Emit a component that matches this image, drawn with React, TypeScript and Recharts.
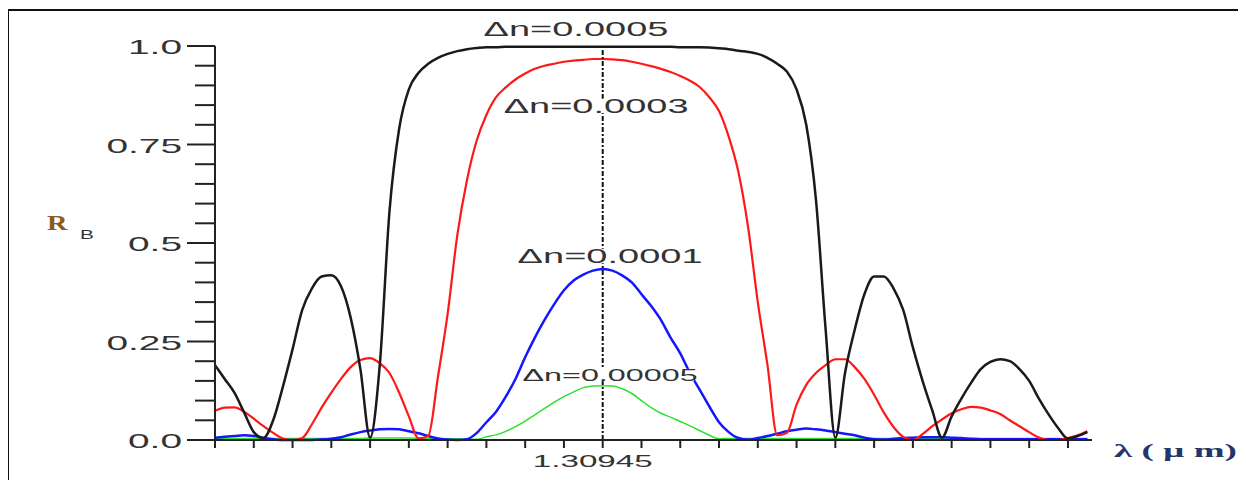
import React from 'react';
import { LineChart, Line, XAxis, YAxis, ReferenceLine, ReferenceDot } from 'recharts';

// wavelength grid (µm), 0.000025 µm step, centred on the Bragg wavelength 1.30945
const lambda = Array.from({ length: 91 }, (_, i) => +(1.30845 + i * 0.000025).toFixed(6));

// reflectivity R_B for each index modulation Δn
const dn0005 = [
  0.19, 0.155, 0.12, 0.07, 0.02, 0.005, 0.05, 0.135, 0.23, 0.33,
  0.385, 0.415, 0.418, 0.39, 0.31, 0.18, 0.006, 0.19, 0.58, 0.79,
  0.89, 0.932, 0.955, 0.97, 0.98, 0.987, 0.992, 0.995, 0.997, 0.997,
  0.998, 0.998, 0.998, 0.998, 0.998, 0.998, 0.998, 0.998, 0.998, 0.998,
  0.998, 0.998, 0.998, 0.998, 0.998, 0.998, 0.998, 0.998, 0.997, 0.997,
  0.997, 0.996, 0.994, 0.992, 0.988, 0.985, 0.98, 0.97, 0.955, 0.935,
  0.89, 0.8, 0.61, 0.28, 0.006, 0.17, 0.28, 0.37, 0.415, 0.415,
  0.385, 0.33, 0.235, 0.15, 0.075, 0.006, 0.06, 0.105, 0.145, 0.18,
  0.198, 0.205, 0.2, 0.18, 0.15, 0.105, 0.065, 0.03, 0.004, 0.01, 0.02,
];
const dn0003 = [
  0.074, 0.082, 0.083, 0.072, 0.054, 0.035, 0.018, 0.004, 0, 0.005,
  0.04, 0.082, 0.12, 0.155, 0.185, 0.203, 0.208, 0.195, 0.17, 0.12,
  0.06, 0.004, 0.01, 0.16, 0.32, 0.52, 0.66, 0.76, 0.825, 0.87,
  0.895, 0.915, 0.93, 0.942, 0.95, 0.955, 0.96, 0.963, 0.965, 0.967,
  0.967, 0.966, 0.964, 0.96, 0.955, 0.949, 0.942, 0.934, 0.924, 0.912,
  0.896, 0.87, 0.835, 0.77, 0.68, 0.54, 0.35, 0.19, 0.012, 0.018,
  0.09, 0.14, 0.17, 0.19, 0.205, 0.205, 0.185, 0.155, 0.115, 0.07,
  0.033, 0.008, 0, 0.015, 0.035, 0.052, 0.068, 0.078, 0.084, 0.082,
  0.075, 0.066, 0.05, 0.035, 0.02, 0.006, 0, 0, 0.005, 0.012, 0.022,
];
const dn0001 = [
  0.006, 0.008, 0.01, 0.012, 0.01, 0.005, 0.002, 0, 0, 0,
  0, 0.001, 0.003, 0.007, 0.014, 0.02, 0.024, 0.027, 0.028, 0.027,
  0.022, 0.017, 0.01, 0.004, 0.001, 0, 0.002, 0.018, 0.045, 0.072,
  0.11, 0.155, 0.21, 0.26, 0.305, 0.345, 0.38, 0.405, 0.42, 0.43,
  0.434, 0.43, 0.418, 0.4, 0.37, 0.34, 0.305, 0.26, 0.22, 0.17,
  0.128, 0.085, 0.045, 0.02, 0.005, 0.001, 0.005, 0.01, 0.016, 0.022,
  0.026, 0.029, 0.027, 0.024, 0.02, 0.016, 0.012, 0.006, 0.002, 0.001,
  0.003, 0.005, 0.006, 0.007, 0.007, 0.007, 0.006, 0.005, 0.003, 0.002,
  0.002, 0.002, 0.002, 0.002, 0.002, 0.002, 0.002, 0.002, 0.002, 0.002, 0.002,
];
const dn00005 = [
  0.004, 0.004, 0.004, 0.004, 0.004, 0.004, 0.004, 0.004, 0.004, 0.004,
  0.004, 0.004, 0.004, 0.004, 0.004, 0.004, 0.005, 0.005, 0.005, 0.005,
  0.005, 0.004, 0.004, 0.004, 0.003, 0.003, 0.002, 0.002, 0.008, 0.013,
  0.022, 0.034, 0.048, 0.064, 0.08, 0.096, 0.11, 0.122, 0.133, 0.137,
  0.138, 0.137, 0.13, 0.118, 0.1, 0.082, 0.068, 0.058, 0.047, 0.036,
  0.024, 0.012, 0.003, 0.004, 0.004, 0.004, 0.004, 0.004, 0.004, 0.004,
  0.004, 0.004, 0.004, 0.004, 0.004, 0.004, 0.004, 0.004, 0.004, 0.004,
  0.004, 0.004, 0.004, 0.004, 0.004, 0.004, 0.004, 0.004, 0.004, 0.004,
  0.004, 0.004, 0.004, 0.004, 0.004, 0.004, 0.004, 0.004, 0.004, 0.004, 0.004,
];

const xTicks = [
  1.30845, 1.30855, 1.30865, 1.30875, 1.30885, 1.30895, 1.30905, 1.30915,
  1.30925, 1.30935, 1.30945, 1.30955, 1.30965, 1.30975, 1.30985, 1.30995,
  1.31005, 1.31015, 1.31025, 1.31035, 1.31045, 1.31055, 1.31065,
];
const centre = 1.30945;
const yTicks = [
  0, 0.05, 0.1, 0.15, 0.2, 0.25, 0.3, 0.35, 0.4, 0.45, 0.5,
  0.55, 0.6, 0.65, 0.7, 0.75, 0.8, 0.85, 0.9, 0.95, 1,
];
const yLabels: Record<string, string> = { '0': '0.0', '0.25': '0.25', '0.5': '0.5', '0.75': '0.75', '1': '1.0' };

// curve annotations: text, position in data units, font size
const notes = [
  { text: 'Δn=0.0005', x: 1.309381, y: 1.043, size: 20 },
  { text: 'Δn=0.0003', x: 1.309433, y: 0.848, size: 20 },
  { text: 'Δn=0.0001', x: 1.309469, y: 0.467, size: 20 },
  { text: 'Δn=0.00005', x: 1.309469, y: 0.165, size: 17 },
];

const rows = lambda.map((l, i) => ({
  lambda: l,
  a: dn0005[i],
  b: dn0003[i],
  c: dn0001[i],
  d: dn00005[i],
}));

const FONT = '"Liberation Sans", Arial, sans-serif';
const SERIF = '"Liberation Serif", "Times New Roman", serif';

const YTick = (props: any) => {
  const { x, y, payload } = props;
  const label = yLabels[String(payload.value)];
  return (
    <g>
      <line x1={x - (label ? 28 : 20)} x2={x} y1={y} y2={y} stroke="#222" strokeWidth={2} />
      {label && (
        <text
          transform={`translate(${x - 33},${y + 1}) scale(1.85,1)`}
          textAnchor="end"
          dominantBaseline="central"
          fontSize={21}
          fontFamily={FONT}
          fill="#333"
        >
          {label}
        </text>
      )}
    </g>
  );
};

const XTick = (props: any) => {
  const { x, y, payload } = props;
  const isCentre = Math.abs(payload.value - centre) < 1e-7;
  return (
    <g>
      <line x1={x} x2={x} y1={y} y2={y + 8} stroke="#222" strokeWidth={2} />
      {isCentre && (
        <text
          transform={`translate(${x - 10},${y + 27}) scale(1.95,1)`}
          textAnchor="middle"
          fontSize={17}
          fontFamily={FONT}
          fill="#333"
        >
          1.30945
        </text>
      )}
    </g>
  );
};

const NoteLabel = (props: any) => {
  const { viewBox, text, size } = props;
  const cx = viewBox.x + (viewBox.width || 0) / 2;
  const cy = viewBox.y + (viewBox.height || 0) / 2;
  const w = text.length * size * 0.52 * 1.9;
  return (
    <g>
      <rect x={cx - w / 2} y={cy - size * 0.36} width={w} height={size * 0.72} fill="#fff" />
      <text
        transform={`translate(${cx},${cy}) scale(1.9,1)`}
        textAnchor="middle"
        dominantBaseline="central"
        fontSize={size}
        fontFamily={FONT}
        fill="#333"
      >
        {text}
      </text>
    </g>
  );
};

export default function App() {
  return (
    <div style={{ position: 'relative', width: 1246, height: 488, margin: -8, overflow: 'hidden', background: '#fff' }}>
      <div
        style={{
          position: 'absolute', left: 7, top: 9, width: 1238, height: 520,
          border: '2px solid #111', boxSizing: 'border-box',
        }}
      />
      <div style={{ position: 'absolute', left: 0, top: 0 }}>
        <LineChart width={1246} height={488} data={rows} margin={{ top: 46, right: 154, bottom: 0, left: 0 }}>
          <XAxis
            dataKey="lambda"
            type="number"
            domain={[1.30845, 1.310712]}
            ticks={xTicks}
            interval={0}
            height={48}
            tickSize={0}
            tickMargin={0}
            tickLine={false}
            tick={<XTick />}
            axisLine={{ stroke: '#222', strokeWidth: 2 }}
          />
          <YAxis
            type="number"
            domain={[0, 1]}
            ticks={yTicks}
            interval={0}
            width={215}
            tickSize={0}
            tickMargin={0}
            tickLine={false}
            tick={<YTick />}
            axisLine={{ stroke: '#222', strokeWidth: 2 }}
          />
          <Line type="monotone" dataKey="d" stroke="#2ee02e" strokeWidth={1.5} dot={false} isAnimationActive={false} />
          <Line type="monotone" dataKey="c" stroke="#1616ff" strokeWidth={2.5} dot={false} isAnimationActive={false} />
          <Line type="monotone" dataKey="b" stroke="#ff1818" strokeWidth={2.2} dot={false} isAnimationActive={false} />
          <Line type="monotone" dataKey="a" stroke="#1a1a1a" strokeWidth={2.5} dot={false} isAnimationActive={false} />
          {notes.map((n) => (
            <ReferenceDot
              key={n.text}
              x={n.x}
              y={n.y}
              r={1}
              fill="none"
              stroke="none"
              ifOverflow="visible"
              label={<NoteLabel text={n.text} size={n.size} />}
            />
          ))}
          <ReferenceLine x={centre} stroke="#111" strokeWidth={2} strokeDasharray="5 2 2 2" />
        </LineChart>
      </div>
      <div style={{ position: 'absolute', left: 47, top: 211, fontFamily: SERIF, fontWeight: 'bold', fontSize: 21, color: '#8a5c1e', transform: 'scaleX(1.35)', transformOrigin: 'left top' }}>
        R
      </div>
      <div style={{ position: 'absolute', left: 80, top: 227, fontFamily: FONT, fontSize: 13, color: '#333', transform: 'scaleX(1.6)', transformOrigin: 'left top' }}>
        B
      </div>
      <div style={{ position: 'absolute', left: 1114, top: 440, fontFamily: SERIF, fontWeight: 'bold', fontSize: 19, color: '#23356a', whiteSpace: 'pre', transform: 'scaleX(1.95)', transformOrigin: 'left top' }}>
        {'λ ( µ m)'}
      </div>
    </div>
  );
}
